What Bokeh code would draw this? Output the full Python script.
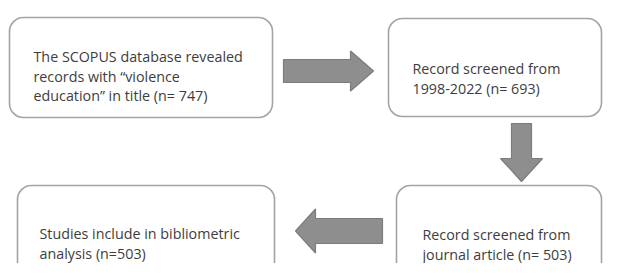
from bokeh.plotting import figure
from bokeh.models import Range1d
from bokeh.core.properties import value
from bokeh.embed import file_html
from bokeh.resources import INLINE

# ---- content (data) ----
box_texts = [
    ["The SCOPUS database revealed", "records with \u201cviolence", "education\u201d in title (n= 747)"],
    ["Record screened from", "1998-2022 (n= 693)"],
    ["Record screened from", "journal article (n= 503)"],
    ["Studies include in bibliometric", "analysis (n=503)"],
]
record_counts = [747, 693, 503, 503]

# ---- layout (pixel coordinates of the picture) ----
box_left = [9, 388, 396, 17]
box_right = [272, 601, 601, 274]
box_top = [17, 18, 185, 185]
box_bottom = [117, 116, 300, 300]
text_x = [33, 412, 422, 39]
text_first_baseline = [56, 68, 234, 233]
line_step = 19.5

# arrows: tail, tip, shaft width, head width, head length
arrow_tail = [(283, 70.5), (521, 123), (382, 230.5)]
arrow_tip = [(373, 70.5), (521, 181), (295, 230.5)]
shaft_w = [23, 20, 25]
head_w = [40, 42, 44]
head_len = [23, 23, 20]

W, H = 603, 263
p = figure(width=W, height=H, output_backend="svg", toolbar_location=None,
           x_range=Range1d(0, W), y_range=Range1d(H, 0),
           min_border=0, outline_line_color=None, background_fill_color="white",
           border_fill_color="white")
p.axis.visible = False
p.xgrid.visible = False
p.ygrid.visible = False

# boxes
p.quad(left=box_left, right=box_right, top=box_top, bottom=box_bottom,
       fill_color="white", line_color="#a3a3a3", line_width=1.6, border_radius=14)

# arrows as polygons
xs, ys = [], []
for (tx, ty), (hx, hy), sw, hw, hl in zip(arrow_tail, arrow_tip, shaft_w, head_w, head_len):
    dx, dy = hx - tx, hy - ty
    L = (dx * dx + dy * dy) ** 0.5
    ux, uy = dx / L, dy / L
    nx, ny = -uy, ux
    bx, by = hx - ux * hl, hy - uy * hl
    pts = [
        (tx + nx * sw / 2, ty + ny * sw / 2),
        (bx + nx * sw / 2, by + ny * sw / 2),
        (bx + nx * hw / 2, by + ny * hw / 2),
        (hx, hy),
        (bx - nx * hw / 2, by - ny * hw / 2),
        (bx - nx * sw / 2, by - ny * sw / 2),
        (tx - nx * sw / 2, ty - ny * sw / 2),
    ]
    xs.append([q[0] for q in pts])
    ys.append([q[1] for q in pts])
p.patches(xs=xs, ys=ys, fill_color="#8e8e8e", line_color="#7c7c7c", line_width=1.2)

# texts
tx_, ty_, tt_ = [], [], []
for i, lines in enumerate(box_texts):
    for j, ln in enumerate(lines):
        tx_.append(text_x[i])
        ty_.append(text_first_baseline[i] + j * line_step)
        tt_.append(ln)
p.text(x=tx_, y=ty_, text=tt_, text_align="left", text_baseline="alphabetic",
       text_font=value("Open Sans"), text_font_size="14.3px", text_color="#3d3d3d")

open("out.html", "w").write(file_html(p, INLINE))
